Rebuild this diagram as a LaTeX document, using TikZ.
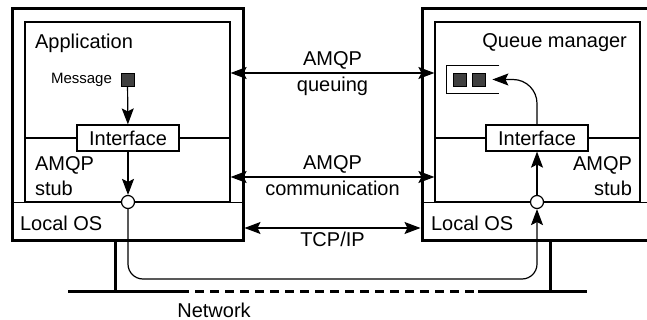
\documentclass[tikz,border=0pt]{standalone}
\usepackage{fontspec}
\setmainfont{Liberation Sans}
\usetikzlibrary{arrows.meta,positioning,calc}

\begin{document}
\begin{tikzpicture}[x=0.5pt, y=-0.5pt,
    font=\fontsize{10}{12.5}\selectfont,
    host/.style={rectangle, draw, line width=1.5pt, minimum width=115.5pt, minimum height=115.5pt, inner sep=0pt},
    layer/.style={rectangle, draw, line width=0.6pt, minimum width=102.5pt, minimum height=90pt, inner sep=0pt},
    iface/.style={rectangle, draw, fill=white, line width=0.6pt, minimum width=51pt, minimum height=13pt, inner sep=0pt},
    msgbox/.style={rectangle, draw, fill=black!75, line width=0.4pt, minimum size=6.5pt, inner sep=0pt},
    port/.style={circle, draw, fill=white, line width=0.6pt, minimum size=6.5pt, inner sep=0pt},
    flow/.style={-{Stealth[length=8pt,width=6pt,inset=1.5pt]}, line width=0.6pt},
    link/.style={{Stealth[length=8pt,width=6pt,inset=1.5pt]}-{Stealth[length=8pt,width=6pt,inset=1.5pt]}, line width=0.6pt},
    wire/.style={line width=1.5pt},
    lbl/.style={inner sep=1.5pt}
]
    \useasboundingbox (0,0) rectangle (647,320);
    \clip (0,0) rectangle (647,320);

    % the two machines
    \node[host] (hostA) at (127.5,124.5) {};
    \node[host] (hostB) at (537.5,124.5) {};
    \node[layer] (appbox) at (127.5,112) {};
    \node[layer] (qmbox) at (537.5,112) {};

    % local OS layer
    \draw[line width=0.6pt] (hostA.west |- appbox.south) -- (hostA.east |- appbox.south);
    \draw[line width=0.6pt] (hostB.west |- qmbox.south) -- (hostB.east |- qmbox.south);

    % interfaces on the layer borders
    \node[iface] (ifA) at (128,138) {Interface};
    \node[iface] (ifB) at (537,138) {Interface};
    \draw[line width=0.6pt] (appbox.west |- ifA) -- (ifA.west);
    \draw[line width=0.6pt] (ifA.east) -- (appbox.east |- ifA);
    \draw[line width=0.6pt] (qmbox.west |- ifB) -- (ifB.west);
    \draw[line width=0.6pt] (ifB.east) -- (qmbox.east |- ifB);

    % labels
    \node[anchor=west] (apptext) at (28,43) {Application};
    \node[anchor=east, font=\fontsize{7.5}{9}\selectfont] (msgtext) at (119,80) {Message};
    \node[anchor=west, align=left] (stubA) at (28,176) {AMQP\\stub};
    \node[anchor=west] (osA) at (13,223) {Local OS};
    \node[anchor=east] (qmtext) at (634,43) {Queue manager};
    \node[anchor=east, align=right] (stubB) at (639,176) {AMQP\\stub};
    \node[anchor=west] (osB) at (424,223) {Local OS};

    % message and queue
    \node[msgbox] (msg) at (127.5,79.5) {};
    \node[msgbox] (qitemA) at (460,79.5) {};
    \node[msgbox] (qitemB) at (479,79.5) {};
    \node[minimum width=26pt, minimum height=13.5pt, inner sep=0pt] (queue) at (473,79.5) {};
    \draw[line width=0.6pt] (queue.north east) -- (queue.north west) -- (queue.south west) -- (queue.south east);

    % ports
    \node[port] (portA) at (128,202) {};
    \node[port] (portB) at (537,202) {};

    % message path
    \draw[flow] (msg) -- (ifA);
    \draw[flow] (ifA) -- (portA);
    \draw[flow] (portB) -- (ifB);
    \draw[flow, rounded corners=12pt] (ifB.north) |- ($(queue.east)+(-7,0)$);
    \coordinate (bend) at (330,279);
    \draw[flow, rounded corners=7.5pt] (portA.south) |- (bend) -| (portB.south);

    % peer protocols
    \draw[link] (appbox.east |- 0,73) -- node[lbl, above] {AMQP} node[lbl, below] {queuing} (qmbox.west |- 0,73);
    \draw[link] (appbox.east |- 0,177) -- node[lbl, above] {AMQP} node[lbl, below] {communication} (qmbox.west |- 0,177);
    \draw[link] (hostA.east |- 0,228) -- node[lbl, below] {TCP/IP} (hostB.west |- 0,228);

    % network
    \coordinate (netL) at (68,291);
    \coordinate (dashL) at (180,291);
    \coordinate (dashR) at (478,291);
    \coordinate (netR) at (587,291);
    \draw[wire] (netL) -- (dashL);
    \draw[wire, dash pattern=on 4.5pt off 3pt] (dashL) -- (dashR);
    \draw[wire] (dashR) -- (netR);
    \draw[wire] (hostA.south -| 115,0) -- (115,291);
    \draw[wire] (hostB.south -| 550,0) -- (550,291);
    \node (nettext) at (214,310) {Network};
\end{tikzpicture}
\end{document}
